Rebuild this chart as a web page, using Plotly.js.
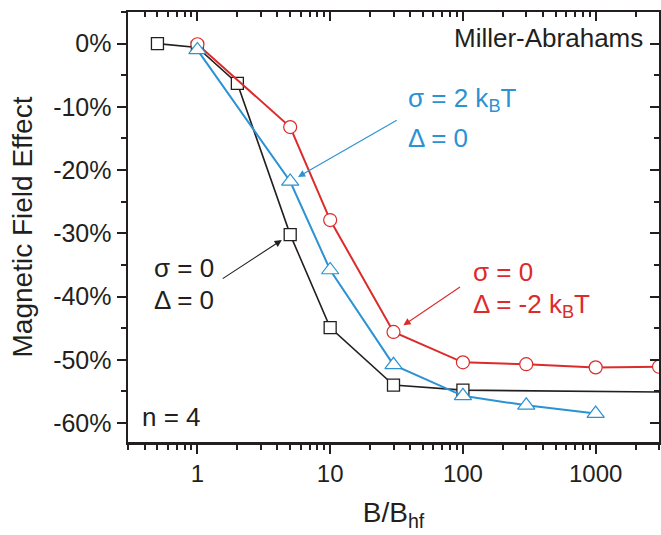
<!DOCTYPE html>
<html>
<head>
<meta charset="utf-8">
<script src="https://cdn.plot.ly/plotly-3.0.1.min.js"></script>
<style>html,body{margin:0;padding:0;background:#fff;}#chart{width:661px;height:535px;}</style>
</head>
<body>
<div id="chart"></div>
<script>
// Data
const blackX = [0.5, 1, 2, 5, 10, 30, 100, 10000];
const blackY = [0.0, -0.6, -6.3, -30.2, -44.9, -54.0, -54.8, -55.2];
const blueX = [1, 5, 10, 30, 100, 300, 1000];
const blueY = [-1.0, -21.8, -35.8, -50.8, -55.7, -57.2, -58.5];
const redX = [1, 5, 10, 30, 100, 300, 1000, 3000];
const redY = [-0.1, -13.2, -27.9, -45.6, -50.4, -50.7, -51.2, -51.1];
const yTickVals = [0, -10, -20, -30, -40, -50, -60];
const yTickText = ['0%', '-10%', '-20%', '-30%', '-40%', '-50%', '-60%'];

const BLACK = '#231f20', RED = '#dc2b2b', BLUE = '#2b92d3';
const FONT = 'Liberation Sans, Arial, sans-serif';
const L = 128, T = 12, W = 531, H = 430;
const px = v => (v - L) / W;
const py = v => (T + H - v) / H;
const xRange = [Math.log10(0.3), Math.log10(3000)];
const yRange = [-63, 5];

const traces = [
  {x: blackX, y: blackY, mode: 'lines+markers', line: {color: BLACK, width: 1.6},
   marker: {symbol: 'square', size: 12, color: '#fff', line: {color: BLACK, width: 1.3}}},
  {x: redX, y: redY, mode: 'lines+markers', line: {color: RED, width: 2},
   marker: {symbol: 'circle', size: 13, color: '#fff', line: {color: RED, width: 1.2}}},
  {x: blueX, y: blueY, xaxis: 'x2', yaxis: 'y2', mode: 'lines+markers', line: {color: BLUE, width: 2},
   marker: {symbol: 'triangle-up', size: 15, color: '#fff', line: {color: BLUE, width: 1.2}}}
];

function txt(text, x, y, color, anchor) {
  return {text: text, xref: 'paper', yref: 'paper', x: px(x), y: py(y), xanchor: anchor || 'left',
    yanchor: 'middle', showarrow: false, font: {family: FONT, size: 26, color: color}};
}
function arrow(xv, yv, ax, ay, color, standoff) {
  return {xref: 'x', yref: 'y', x: Math.log10(xv), y: yv, ax: ax, ay: ay, text: '',
    showarrow: true, arrowhead: 2, arrowsize: 1.3, arrowwidth: 1.1, arrowcolor: color, standoff: standoff};
}

const annotations = [
  txt('Miller-Abrahams', 645, 38, BLACK, 'right'),
  txt('σ = 2 k<sub>B</sub>T', 406, 99, BLUE),
  txt('Δ = 0', 406, 138, BLUE),
  txt('σ = 0', 152, 268, BLACK),
  txt('Δ = 0', 152, 300, BLACK),
  txt('σ = 0', 471, 272, RED),
  txt('Δ = -2 k<sub>B</sub>T', 471, 305, RED),
  txt('n = 4', 140, 417, BLACK),
  arrow(blackX[3], blackY[3], -69, 45, BLACK, 10),
  arrow(blueX[1], blueY[1], 108, -62, BLUE, 9),
  arrow(redX[3], redY[3], 68, -46, RED, 12)
];

const axisCommon = {showline: true, linecolor: BLACK, linewidth: 2.5, showgrid: false, zeroline: false,
  tickcolor: BLACK, tickwidth: 2, tickfont: {family: FONT, size: 24, color: BLACK}};

const layout = {
  width: 661, height: 535, showlegend: false,
  margin: {l: L, r: 661 - L - W, t: T, b: 535 - T - H, pad: 0},
  paper_bgcolor: '#fff', plot_bgcolor: 'rgba(0,0,0,0)',
  font: {family: FONT, color: BLACK},
  xaxis: Object.assign({}, axisCommon, {type: 'log', range: xRange, dtick: 1, exponentformat: 'none',
    ticks: 'outside', ticklen: 9,
    minor: {dtick: 'D1', ticks: 'outside', ticklen: 5, tickwidth: 2, tickcolor: BLACK, showgrid: false},
    title: {text: 'B/B<sub>hf</sub>', font: {family: FONT, size: 28, color: BLACK}, standoff: 16}}),
  yaxis: Object.assign({}, axisCommon, {range: yRange, tickmode: 'array', tickvals: yTickVals, ticktext: yTickText,
    ticks: 'outside', ticklen: 9, tickfont: {family: FONT, size: 25, color: BLACK},
    minor: {tickmode: 'linear', tick0: 0, dtick: 5, ticks: 'outside', ticklen: 5, tickwidth: 2, tickcolor: BLACK, showgrid: false},
    title: {text: 'Magnetic Field Effect', font: {family: FONT, size: 28, color: BLACK}, standoff: 13}}),
  xaxis2: {overlaying: 'x', side: 'top', anchor: 'y2', type: 'log', range: xRange, dtick: 1, showticklabels: false,
    showline: true, linecolor: BLACK, linewidth: 2.5, showgrid: false, zeroline: false,
    ticks: 'inside', ticklen: 9, tickwidth: 2, tickcolor: BLACK,
    minor: {dtick: 'D1', ticks: 'inside', ticklen: 5, tickwidth: 2, tickcolor: BLACK, showgrid: false}},
  yaxis2: {overlaying: 'y', side: 'right', anchor: 'x2', range: yRange, tickmode: 'array', tickvals: yTickVals,
    showticklabels: false, showline: true, linecolor: BLACK, linewidth: 2.5, showgrid: false, zeroline: false,
    ticks: 'inside', ticklen: 9, tickwidth: 2, tickcolor: BLACK,
    minor: {tickmode: 'linear', tick0: 0, dtick: 5, ticks: 'inside', ticklen: 5, tickwidth: 2, tickcolor: BLACK, showgrid: false}},
  annotations: annotations
};

Plotly.newPlot('chart', traces, layout, {staticPlot: true, displayModeBar: false});
</script>
</body>
</html>
